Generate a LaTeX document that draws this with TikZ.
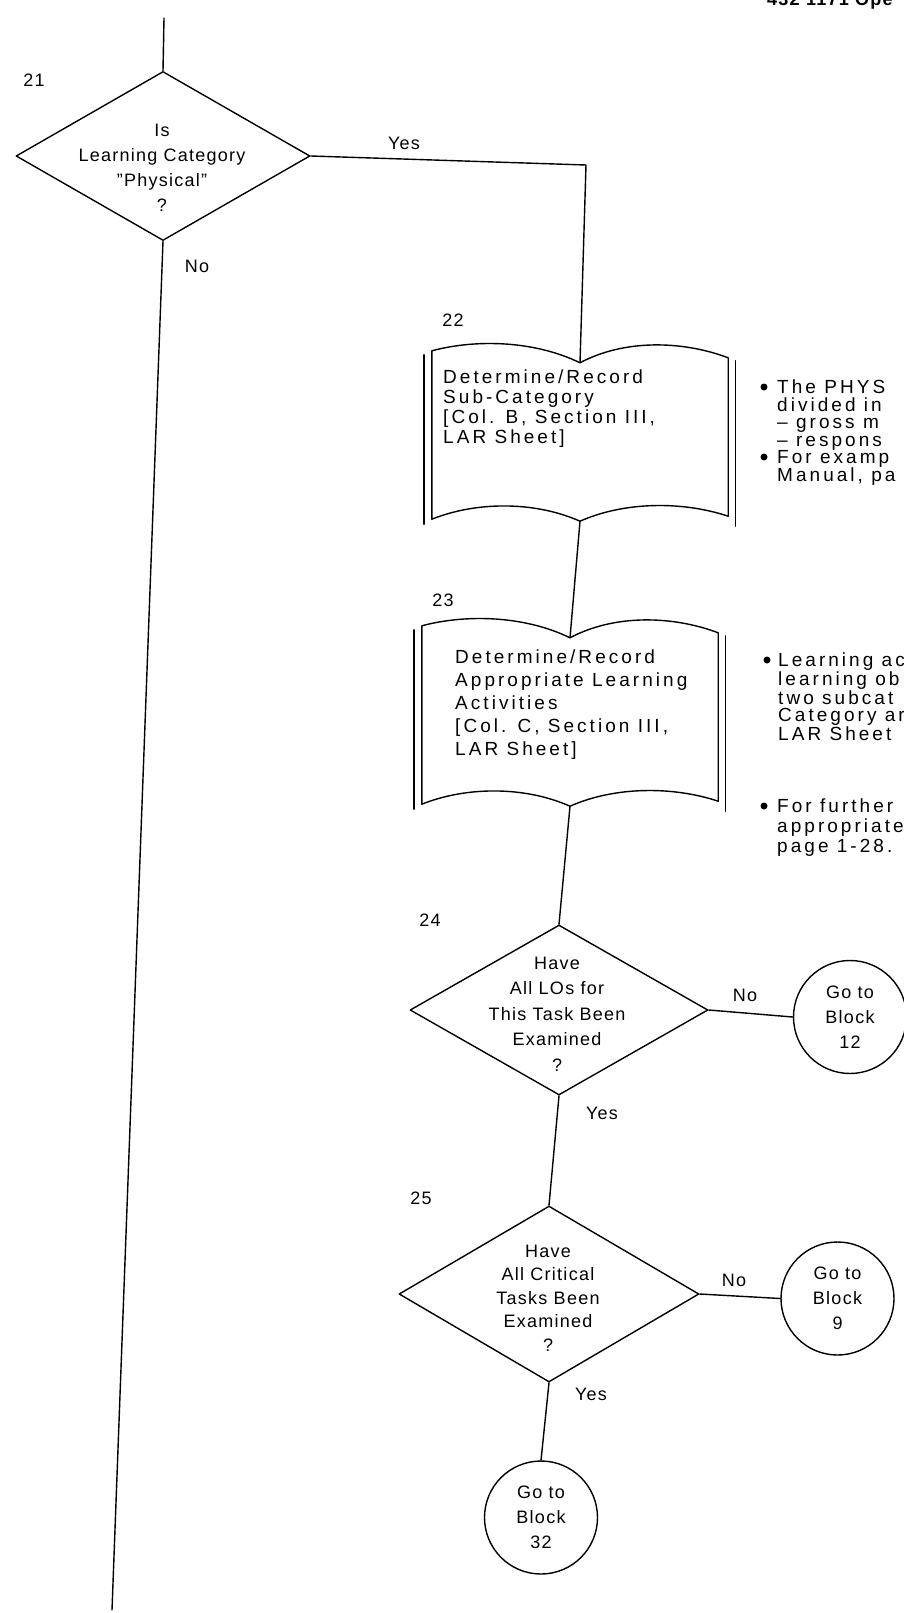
\documentclass[tikz,border=0pt]{standalone}
\usepackage{fontspec}
\setmainfont{Liberation Sans}[LetterSpace=7]
\newfontfamily\bookfont{Liberation Sans}[LetterSpace=16]
\usetikzlibrary{shapes.geometric,calc}
\newcommand\dt[1]{\fontsize{18}{#1}\selectfont}
\newcommand\bk[1]{\bookfont\fontsize{19}{#1}\selectfont}
\newcommand\bookdeco[1]{%
  \draw[ln] ($(#1.north west)+(0,-12)$)
      .. controls ($(#1.north west)+(45,-24)$) and ($(#1.north)+(-45,-22)$) .. (#1.north)
      .. controls ($(#1.north)+(45,-24)$) and ($(#1.north east)+(-45,-22)$) .. ($(#1.north east)+(0,-5)$)
      -- ($(#1.south east)+(0,-5)$)
      .. controls ($(#1.south east)+(-45,-20)$) and ($(#1.south)+(45,-20)$) .. (#1.south)
      .. controls ($(#1.south)+(-45,-20)$) and ($(#1.south west)+(45,-20)$) .. ($(#1.south west)+(0,-2)$)
      -- cycle;
  \draw[ln] ($(#1.north west)+(-8,-8)$) -- ($(#1.south west)+(-8,3)$);
  \draw[ln] ($(#1.north east)+(7,-2)$) -- ($(#1.south east)+(7,5)$);
}
\begin{document}
\begin{tikzpicture}[x=1pt,y=-1pt,
  ln/.style={line width=1.4pt, line cap=round, line join=round},
  dia/.style={diamond, draw, ln, inner sep=0pt},
  goto/.style={circle, draw, ln, minimum size=113pt, inner sep=0pt, align=center, font=\dt{25}},
  tx/.style={inner sep=0pt, align=center},
  txl/.style={inner sep=0pt, align=left, anchor=north west},
  num/.style={font=\dt{20}, inner sep=0pt},
  lbl/.style={font=\dt{20}, inner sep=0pt},
  dot/.style={circle, fill=black, draw=none, inner sep=0pt, minimum size=7pt},
  book/.style={draw=none, inner sep=0pt},
]
\fill[white] (0,0) rectangle (904,1613);
\useasboundingbox (0,0) rectangle (904,1613);

% header (cut at top edge)
\node[font=\bfseries\dt{20}, inner sep=0pt, anchor=base west] (hdr) at (767,6) {432 1171 Ope};

% block numbers
\node[num] (n21) at (34,80) {21};
\node[num] (n22) at (453,320) {22};
\node[num] (n23) at (443,600) {23};
\node[num] (n24) at (430,920) {24};
\node[num] (n25) at (421,1198) {25};

% decision 21
\coordinate (top0) at (164,18);
\node[dia, minimum width=294pt, minimum height=169pt] (d21) at (163,156) {};
\node[tx, font=\dt{25}] (t21) at (162,168) {Is\\Learning Category\\"Physical"\\?};

% book 22
\node[book, minimum width=296pt, minimum height=158pt] (b22) at (580,442) {};
\bookdeco{b22}
\node[txl, font=\bk{20}] (t22) at (443,370) {Determine/Record\\Sub-Category\\{[}Col. B, Section III,\\LAR Sheet]};

% book 23
\node[book, minimum width=296pt, minimum height=168pt] (b23) at (570,722) {};
\bookdeco{b23}
\node[txl, font=\bk{23}] (t23) at (455,650) {Determine/Record\\Appropriate Learning\\Activities\\{[}Col. C, Section III,\\LAR Sheet]};

% decision 24
\node[dia, minimum width=298pt, minimum height=170pt] (d24) at (559,1010) {};
\node[tx, font=\dt{25.5}] (t24) at (557,1014) {Have\\All LOs for\\This Task Been\\Examined\\?};

% decision 25
\node[dia, minimum width=300pt, minimum height=176pt] (d25) at (549,1294) {};
\node[tx, font=\dt{23.5}] (t25) at (548,1298) {Have\\All Critical\\Tasks Been\\Examined\\?};

% go-to circles
\node[goto] (c12) at (850,1017) {Go to\\Block\\12};
\node[goto] (c9) at (837.5,1298.5) {Go to\\Block\\9};
\node[goto] (c32) at (541,1517.5) {Go to\\Block\\32};

% notes beside 22
\node[dot] (bu1) at (764,387) {};
\node[txl, font=\bk{17.5}] (r22a) at (777,380) {The PHYS\\divided in\\– gross m\\– respons};
\node[dot] (bu2) at (764,457) {};
\node[txl, font=\bk{18}] (r22b) at (777,450) {For examp\\Manual, pa};

% notes beside 23
\node[dot] (bu3) at (767,660) {};
\node[txl, font=\bk{17.5}] (r23a) at (778,653) {Learning ac\\learning ob\\two subcat\\Category ar\\LAR Sheet};
\node[dot] (bu4) at (764,806) {};
\node[txl, font=\bk{20}] (r23b) at (777,799) {For further\\appropriate\\page 1-28.};

% connectors
\coordinate (yc) at (586,165);
\coordinate (nend) at (112,1610);
\draw[ln] (top0) -- (d21.north);
\draw[ln] (d21.east) -- (yc) -- (b22.north);
\draw[ln] (d21.south) -- (nend);
\draw[ln] (b22.south) -- (b23.north);
\draw[ln] (b23.south) -- (d24.north);
\draw[ln] (d24.east) -- (c12.west);
\draw[ln] (d24.south) -- (d25.north);
\draw[ln] (d25.east) -- (c9.west);
\draw[ln] (d25.south) -- (c32.north);

% branch labels
\node[lbl] (y21) at (404,143) {Yes};
\node[lbl] (no21) at (197,266) {No};
\node[lbl] (no24) at (745,995) {No};
\node[lbl] (y24) at (602,1113) {Yes};
\node[lbl] (no25) at (734,1280) {No};
\node[lbl] (y25) at (591,1394) {Yes};
\end{tikzpicture}
\end{document}
